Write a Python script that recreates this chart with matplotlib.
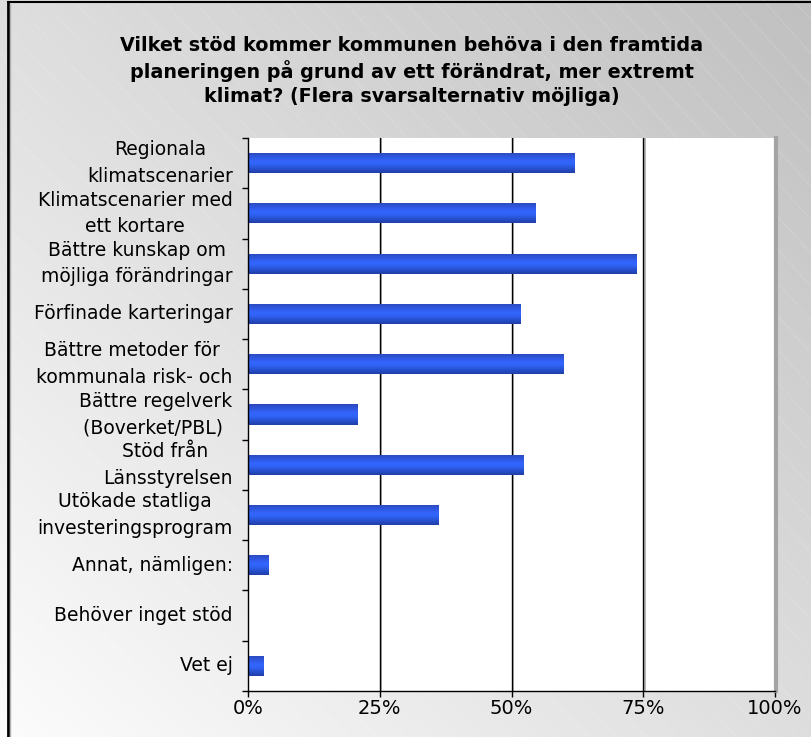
import numpy as np
import matplotlib
matplotlib.use("Agg")
import matplotlib.pyplot as plt
from matplotlib.colors import LinearSegmentedColormap
import matplotlib.transforms as mtransforms

# Survey answers (share of municipalities, %)
categories = [
    "Regionala\nklimatscenarier",
    "Klimatscenarier med\nett kortare",
    "Bättre kunskap om\nmöjliga förändringar",
    "Förfinade karteringar",
    "Bättre metoder för \nkommunala risk- och",
    "Bättre regelverk\n(Boverket/PBL) ",
    "Stöd från \nLänsstyrelsen",
    "Utökade statliga\ninvesteringsprogram",
    "Annat, nämligen:",
    "Behöver inget stöd",
    "Vet ej",
]
values = [62.0, 54.6, 73.8, 51.8, 59.8, 20.8, 52.3, 36.2, 3.9, 0.0, 3.0]
xticks = [0, 25, 50, 75, 100]
xtick_labels = ["0%", "25%", "50%", "75%", "100%"]
title = ("Vilket stöd kommer kommunen behöva i den framtida\n"
         "planeringen på grund av ett förändrat, mer extremt\n"
         "klimat? (Flera svarsalternativ möjliga)")

plt.rcParams["font.family"] = ["DejaVu Sans"]

W, H = 811, 737
fig = plt.figure(figsize=(W / 100, H / 100), dpi=100)

# ---- chart background: diagonal grey gradient with faint stripes ----
bg = fig.add_axes([0, 0, 1, 1], zorder=0)
bg.set_xlim(0, W)
bg.set_ylim(0, H)
bg.axis("off")
gx, gy = np.meshgrid(np.linspace(0, 1, 300), np.linspace(0, 1, 300))
shade = (252 - 60 * (0.5 * gx + 0.5 * gy)) / 255.0
bg.imshow(np.dstack([shade, shade, shade]), extent=(0, W, 0, H),
          origin="lower", aspect="auto", interpolation="bilinear")
for c in np.arange(-H, W + H, 30):
    bg.plot([c, c + H * 0.9], [H, 0], color="white", lw=0.6, alpha=0.16)
# frame of the chart area
bg.plot([8, 8], [0, H - 2], color="black", lw=2)
bg.plot([8, W], [H - 2, H - 2], color="black", lw=1.5)
bg.plot([10, 10], [0, H - 4], color="#b0b0b0", lw=1)

# ---- plot area ----
x0, x1 = 248, 775
y_top, y_bot = 138, 691
ax = fig.add_axes([x0 / W, (H - y_bot) / H, (x1 - x0) / W, (y_bot - y_top) / H],
                  zorder=2)
ax.set_facecolor("white")
n = len(categories)
ypos = np.arange(n)

xform = ax.get_xaxis_transform()
shadow = xform + mtransforms.ScaledTranslation(1.5 / 100, 0, fig.dpi_scale_trans)

# gridlines with a soft grey shadow
for gxv in xticks[1:-1]:
    ax.plot([gxv, gxv], [0, 1], color="#a8a8a8", lw=1.2, zorder=1, transform=shadow)
    ax.plot([gxv, gxv], [0, 1], color="black", lw=1.0, zorder=1.1, transform=xform)

# bars with a vertical blue gradient
bar_h = 0.40
bar_cmap = LinearSegmentedColormap.from_list(
    "barblue", [(0.0, "#2a48bc"), (0.45, "#3366ff"), (0.6, "#3062f4"), (1.0, "#1f3ea8")])
grad = np.linspace(0, 1, 64).reshape(-1, 1)
bars = ax.barh(ypos, values, height=bar_h, color="#2f5ef0", edgecolor="none", zorder=2)
for rect, v, y in zip(bars, values, ypos):
    if v <= 0:
        continue
    im = ax.imshow(grad, cmap=bar_cmap, extent=(0, v, y + bar_h / 2, y - bar_h / 2),
                   origin="upper", aspect="auto", zorder=3, interpolation="bilinear")
    im.set_clip_path(rect)
ax.set_xlim(0, 100)
ax.set_ylim(n - 0.5, -0.5)

# axes styling
for side in ("top", "right"):
    ax.spines[side].set_visible(False)
for side in ("left", "bottom"):
    ax.spines[side].set_color("black")
    ax.spines[side].set_linewidth(1.0)
    ax.spines[side].set_zorder(5)

# right-hand shadow of the plot area
ax.plot([100, 100], [0, 1], color="#a4a4a4", lw=3, zorder=4, clip_on=False,
        transform=xform + mtransforms.ScaledTranslation(1 / 100, 0, fig.dpi_scale_trans))

ax.set_xticks(xticks)
ax.set_xticklabels(xtick_labels, fontsize=14)
ax.tick_params(axis="x", direction="out", length=4, width=1, pad=2, colors="black")

ax.set_yticks(ypos)
ax.set_yticklabels(categories, fontsize=13.5, linespacing=1.5,
                   multialignment="center", va="center")
ax.set_yticks(np.arange(-0.5, n, 1.0), minor=True)
ax.tick_params(axis="y", which="major", length=0, pad=11)
ax.tick_params(axis="y", which="minor", direction="out", length=4, width=1,
               color="black")

fig.text(0.508, 1 - 71 / H, title, ha="center", va="center", fontsize=13.8,
         fontweight="bold", linespacing=1.31, zorder=3)

fig.savefig("out.png", dpi=100)
